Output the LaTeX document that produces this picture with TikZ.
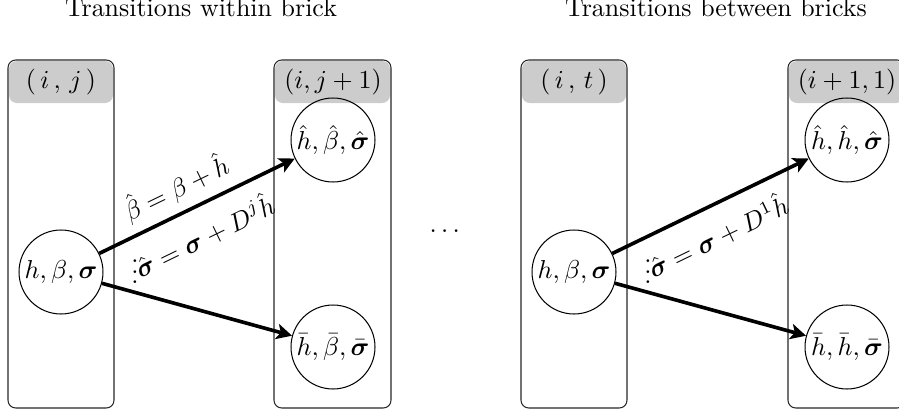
\documentclass[tikz,border=0pt]{standalone}
\usepackage{amsmath,amssymb}
\usepackage{tikz}
\usetikzlibrary{arrows.meta}
\newcommand{\bsig}{\boldsymbol{\sigma}}

\tikzset{
  state/.style={circle,draw,minimum size=32.4pt,inner sep=0pt},
  brick/.style={draw=black!85,rounded corners=3pt},
  header/.style={fill=gray!40,rounded corners=3pt},
  move/.style={-{Stealth[length=6pt,width=6pt,inset=1.5pt]},line width=1.4pt}
}

\begin{document}
\begin{tikzpicture}[x=0.3858pt,y=-0.3858pt]
    \useasboundingbox (0,0) rectangle (899,415);
    % titles
    \node[anchor=base] (tw) at (201,17) {Transitions within brick};
    \node[anchor=base] (tb) at (716,17) {Transitions between bricks};
    % bricks
    \fill[header] (9,61) rectangle (113,103);
    \draw[brick] (8,60) rectangle (114,408);
    \fill[header] (275,61) rectangle (390,103);
    \draw[brick] (274,60) rectangle (391,408);
    \fill[header] (522,61) rectangle (626,103);
    \draw[brick] (521,60) rectangle (627,408);
    \fill[header] (789,61) rectangle (904,103);
    \draw[brick] (788,60) rectangle (905,408);
    \node (hij) at (61,82) {$(\,i\,,\,j\,)$};
    \node (hij1) at (333,82) {$(i,j+1)$};
    \node (hit) at (574,82) {$(\,i\,,\,t\,)$};
    \node (hi11) at (847,82) {$(i+1,1)$};
    % states
    \node[state] (s1) at (61,272) {$h,\beta,\bsig$};
    \node[state] (u1) at (333,140) {$\hat h,\hat\beta,\hat\bsig$};
    \node[state] (d1) at (333,347) {$\bar h,\bar\beta,\bar\bsig$};
    \node[state] (s2) at (574,272) {$h,\beta,\bsig$};
    \node[state] (u2) at (847,140) {$\hat h,\hat h,\hat\bsig$};
    \node[state] (d2) at (847,347) {$\bar h,\bar h,\bar\bsig$};
    \node (v1) at (135,264) {$\vdots$};
    \node (v2) at (648,264) {$\vdots$};
    \node (dots) at (447,231) {$\dots$};
    % moves
    \draw[move] (s1) -- node[sloped,above,pos=0.45] {$\hat\beta=\beta+\hat h$}
        node[sloped,below=2pt,pos=0.47] {$\hat\bsig=\bsig+D^j\hat h$} (u1);
    \draw[move] (s1) -- (d1);
    \draw[move] (s2) -- node[sloped,below=2pt,pos=0.47] {$\hat\bsig=\bsig+D^1\hat h$} (u2);
    \draw[move] (s2) -- (d2);
\end{tikzpicture}
\end{document}
